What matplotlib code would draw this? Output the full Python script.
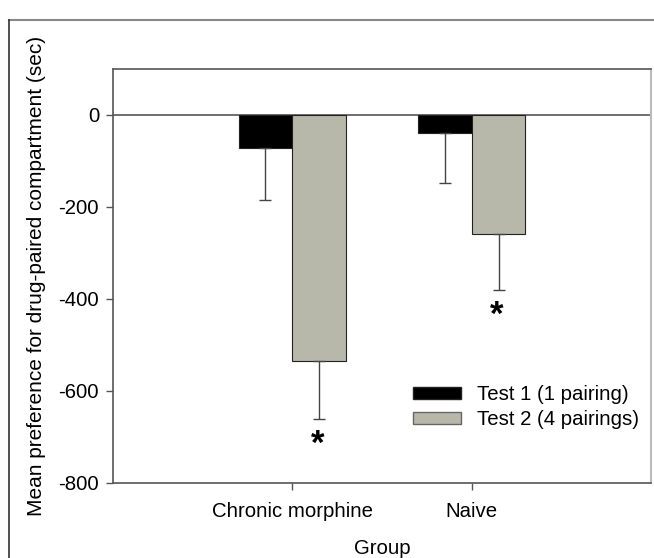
import numpy as np
import matplotlib.pyplot as plt
from matplotlib.patches import Patch
from matplotlib.lines import Line2D

plt.rcParams['font.family'] = ['Liberation Sans', 'DejaVu Sans']

# data
groups = ['Chronic morphine', 'Naive']
test1 = [-72, -40]
test1_err = [113, 108]
test2 = [-535, -259]
test2_err = [125, 121]
labels = ['Test 1 (1 pairing)', 'Test 2 (4 pairings)']
yticks = [0, -200, -400, -600, -800]

fs = 14.7
black = '#000000'
gray = '#b8b8aa'

fig = plt.figure(figsize=(6.54, 5.58), dpi=100)
ax = fig.add_axes([113/654, 1-483/558, 538/654, 414/558])

x = np.arange(len(groups))
w = 0.3
ax.bar(x - w/2, test1, w, color=black, edgecolor='#222222', linewidth=0.8, zorder=2)
ax.bar(x + w/2, test2, w, color=gray, edgecolor='#222222', linewidth=0.8, zorder=2)

# one-sided (downward) error bars
ax.errorbar(x - w/2, test1, yerr=[test1_err, [0]*len(x)], fmt='none',
            ecolor='#444444', elinewidth=1, capsize=4, capthick=1, zorder=3)
ax.errorbar(x + w/2, test2, yerr=[test2_err, [0]*len(x)], fmt='none',
            ecolor='#444444', elinewidth=1, capsize=4, capthick=1, zorder=3)

# significance stars below test 2 error bars
for xi, v, e in zip(x, test2, test2_err):
    ax.text(xi + w/2 - 0.01, v - e - 55, '*', ha='center', va='center',
            fontsize=25, fontweight='bold')

ax.axhline(0, color='#555555', linewidth=1.2, zorder=1)

ax.set_xlim(-1, 2)
ax.set_ylim(-800, 100)
ax.set_yticks(yticks)
ax.set_yticklabels([str(t) for t in yticks], fontsize=fs)
ax.set_xticks(x)
ax.set_xticklabels(groups, fontsize=fs)
ax.tick_params(axis='y', direction='out', length=5, width=1, color='#555555', pad=5)
ax.tick_params(axis='x', direction='out', length=5, width=1, color='#555555', pad=9)

ax.set_ylabel('Mean preference for drug-paired compartment (sec)', fontsize=15, labelpad=9)
ax.set_xlabel('Group', fontsize=fs, labelpad=13)

for s in ['left', 'bottom', 'top']:
    ax.spines[s].set_color('#555555')
    ax.spines[s].set_linewidth(1.2)
ax.spines['right'].set_color('#bbbbbb')
ax.spines['right'].set_linewidth(1.5)

handles = [Patch(facecolor=black, edgecolor='#222222'),
           Patch(facecolor=gray, edgecolor='#666666')]
ax.legend(handles, labels, fontsize=fs, frameon=False, loc='lower right',
          bbox_to_anchor=(1.0, 0.10), handlelength=2.35, handleheight=0.5,
          handletextpad=0.75, labelspacing=0.3, borderaxespad=0.2)

# outer frame of the figure panel
fig.add_artist(Line2D([9/654, 1.0], [1-20/558, 1-20/558], transform=fig.transFigure,
                      color='#888888', linewidth=1.5))
fig.add_artist(Line2D([9/654, 9/654], [0, 1-20/558], transform=fig.transFigure,
                      color='#333333', linewidth=1.2))

fig.savefig('out.png', dpi=100)
